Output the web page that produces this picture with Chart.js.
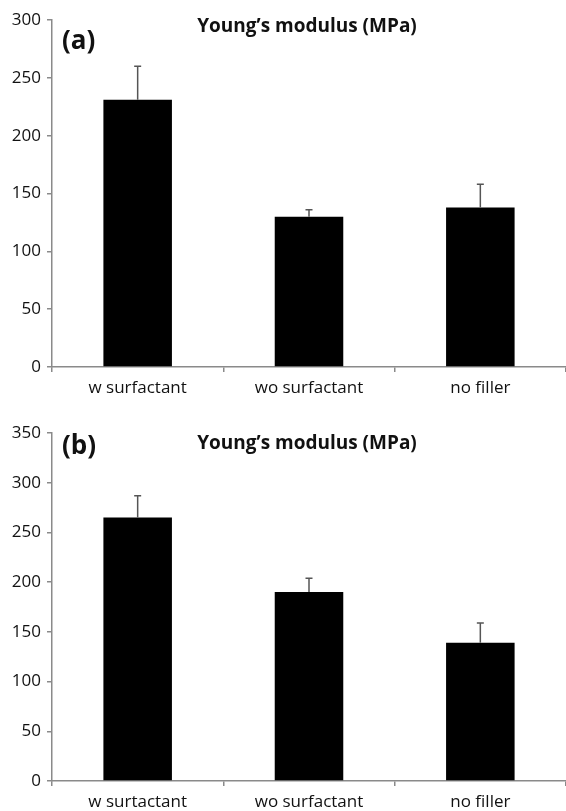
<!DOCTYPE html>
<html lang="en">
<head>
  <meta charset="UTF-8">
  <title>Young's modulus (MPa)</title>
  <script src="https://cdn.jsdelivr.net/npm/chart.js"></script>
  <style>
    body {
      margin: 0;
      background-color: #fff;
    }
    canvas {
      display: block;
    }
  </style>
</head>
<body>
  <canvas id="chartA" width="566" height="400"></canvas>
  <canvas id="chartB" width="566" height="411"></canvas>

  <script>
    // panel (a)
    const categoriesA = ["w surfactant", "wo surfactant", "no filler"];
    const modulusA = [231, 130, 138];
    const errorA = [29, 6, 20];
    const yMaxA = 300;

    // panel (b) - label typo kept as printed
    const categoriesB = ["w surtactant", "wo surfactant", "no filler"];
    const modulusB = [265, 190, 139];
    const errorB = [22, 14, 20];
    const yMaxB = 350;

    const yStep = 50;
    const titleText = "Young\u2019s modulus (MPa)";
    const fontFamily = "'Open Sans', sans-serif";
    const axisColor = '#8a8a8a';

    // upward-only error bars with a small cap
    const errorBarPlugin = {
      id: 'errorBars',
      afterDatasetsDraw(chart, args, opts) {
        const ctx = chart.ctx;
        const meta = chart.getDatasetMeta(0);
        const yScale = chart.scales.y;
        ctx.save();
        ctx.strokeStyle = '#555';
        ctx.lineWidth = 1.5;
        meta.data.forEach((bar, i) => {
          const v = chart.data.datasets[0].data[i];
          const top = yScale.getPixelForValue(v + opts.errors[i]);
          const base = yScale.getPixelForValue(v);
          ctx.beginPath();
          ctx.moveTo(bar.x, base);
          ctx.lineTo(bar.x, top);
          ctx.moveTo(bar.x - 3.5, top);
          ctx.lineTo(bar.x + 3.5, top);
          ctx.stroke();
        });
        ctx.restore();
      }
    };

    // title and panel letter sit inside the plot area
    const panelTextPlugin = {
      id: 'panelText',
      afterDraw(chart, args, opts) {
        const ctx = chart.ctx;
        const area = chart.chartArea;
        ctx.save();
        ctx.fillStyle = '#111';
        ctx.textBaseline = 'middle';
        ctx.textAlign = 'center';
        ctx.font = "bold 19px " + fontFamily;
        ctx.fillText(titleText, 307, area.top + opts.titleDy);
        ctx.textAlign = 'left';
        ctx.font = "bold 26px " + fontFamily;
        ctx.fillText(opts.letter, 62, area.top + opts.letterDy);
        ctx.restore();
      }
    };

    function makeChart(id, labels, values, errors, yMax, letter, padTop, xHeight, titleDy, letterDy) {
      const ctx = document.getElementById(id).getContext('2d');
      return new Chart(ctx, {
        type: 'bar',
        data: {
          labels: labels,
          datasets: [{
            data: values,
            backgroundColor: '#000',
            borderColor: '#333',
            borderWidth: 0,
            barPercentage: 0.4,
            categoryPercentage: 1.0
          }]
        },
        options: {
          responsive: false,
          animation: false,
          layout: { padding: { top: padTop, left: 0, right: 0, bottom: 0 } },
          plugins: {
            legend: { display: false },
            tooltip: { enabled: false },
            errorBars: { errors: errors },
            panelText: { letter: letter, titleDy: titleDy, letterDy: letterDy }
          },
          scales: {
            x: {
              grid: { display: true, drawOnChartArea: false, offset: true, tickLength: 5, color: axisColor, lineWidth: 1.5 },
              border: { color: axisColor, width: 1.5 },
              ticks: { color: '#111', font: { family: fontFamily, size: 17 }, padding: 6, maxRotation: 0 },
              afterFit(scale) { scale.height = xHeight; }
            },
            y: {
              min: 0,
              max: yMax,
              grid: { display: true, drawOnChartArea: false, tickLength: 5, color: axisColor, lineWidth: 1.5 },
              border: { color: axisColor, width: 1.5 },
              ticks: { stepSize: yStep, color: '#111', font: { family: fontFamily, size: 17 }, padding: 6 },
              afterFit(scale) { scale.width = 52; }
            }
          }
        },
        plugins: [errorBarPlugin, panelTextPlugin]
      });
    }

    makeChart('chartA', categoriesA, modulusA, errorA, yMaxA, '(a)', 20, 33, 7, 22);
    makeChart('chartB', categoriesB, modulusB, errorB, yMaxB, '(b)', 33, 30, 11, 14);
  </script>
</body>
</html>
